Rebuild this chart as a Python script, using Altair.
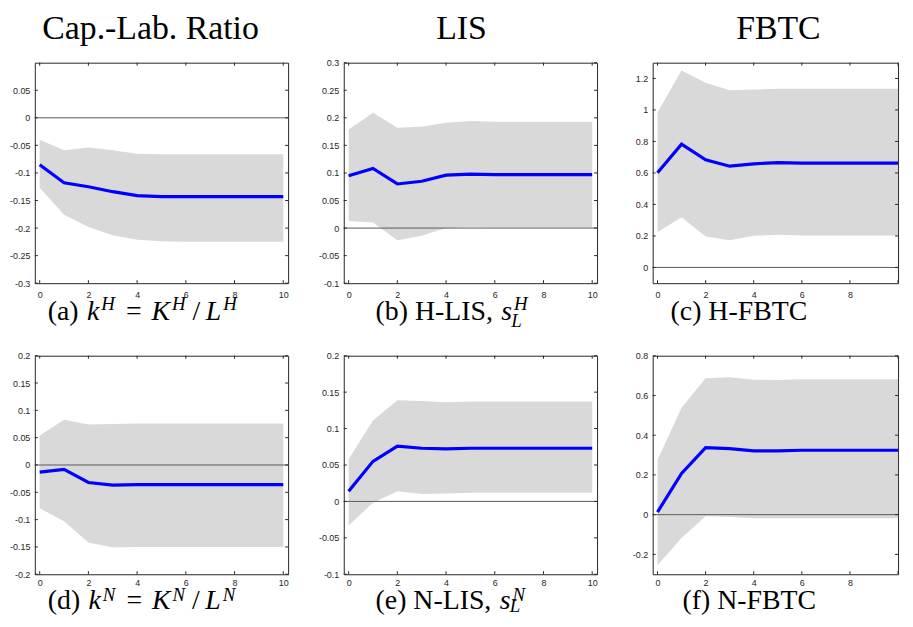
import altair as alt
import pandas as pd

periods = list(range(11))

# (a) k^H
kH_mid = [-0.085, -0.118, -0.125, -0.134, -0.141, -0.143, -0.143, -0.143, -0.143, -0.143, -0.143]
kH_hi = [-0.040, -0.059, -0.054, -0.059, -0.065, -0.066, -0.066, -0.066, -0.066, -0.066, -0.066]
kH_lo = [-0.127, -0.176, -0.198, -0.213, -0.221, -0.224, -0.225, -0.225, -0.225, -0.225, -0.225]
# (b) H-LIS
lisH_mid = [0.095, 0.108, 0.080, 0.085, 0.096, 0.098, 0.097, 0.097, 0.097, 0.097, 0.097]
lisH_hi = [0.179, 0.209, 0.182, 0.184, 0.191, 0.194, 0.193, 0.193, 0.193, 0.193, 0.193]
lisH_lo = [0.013, 0.010, -0.022, -0.014, 0.000, 0.002, 0.001, 0.001, 0.001, 0.001, 0.001]
# (c) H-FBTC
fbtcH_mid = [0.601, 0.783, 0.683, 0.643, 0.658, 0.666, 0.662, 0.662, 0.662, 0.662, 0.662]
fbtcH_hi = [0.984, 1.250, 1.173, 1.125, 1.129, 1.135, 1.135, 1.135, 1.135, 1.135, 1.135]
fbtcH_lo = [0.224, 0.318, 0.197, 0.172, 0.201, 0.207, 0.203, 0.203, 0.203, 0.203, 0.203]
# (d) k^N
kN_mid = [-0.013, -0.008, -0.032, -0.037, -0.036, -0.036, -0.036, -0.036, -0.036, -0.036, -0.036]
kN_hi = [0.054, 0.083, 0.074, 0.075, 0.076, 0.076, 0.076, 0.076, 0.076, 0.076, 0.076]
kN_lo = [-0.079, -0.103, -0.142, -0.151, -0.150, -0.150, -0.150, -0.150, -0.150, -0.150, -0.150]
# (e) N-LIS
lisN_mid = [0.014, 0.055, 0.076, 0.073, 0.072, 0.073, 0.073, 0.073, 0.073, 0.073, 0.073]
lisN_hi = [0.058, 0.111, 0.139, 0.138, 0.136, 0.137, 0.137, 0.137, 0.137, 0.137, 0.137]
lisN_lo = [-0.033, -0.002, 0.014, 0.010, 0.011, 0.012, 0.012, 0.012, 0.012, 0.012, 0.012]
# (f) N-FBTC
fbtcN_mid = [0.013, 0.207, 0.337, 0.332, 0.321, 0.321, 0.324, 0.324, 0.324, 0.324, 0.324]
fbtcN_hi = [0.275, 0.538, 0.687, 0.691, 0.679, 0.678, 0.681, 0.681, 0.681, 0.681, 0.681]
fbtcN_lo = [-0.255, -0.118, -0.008, -0.012, -0.018, -0.018, -0.018, -0.018, -0.018, -0.018, -0.018]

col_titles = ["Cap.-Lab. Ratio", "LIS", "FBTC"]

yt_kH = [-0.3, -0.25, -0.2, -0.15, -0.1, -0.05, 0, 0.05]
yt_lisH = [-0.1, -0.05, 0, 0.05, 0.1, 0.15, 0.2, 0.25, 0.3]
yt_fbtcH = [0, 0.2, 0.4, 0.6, 0.8, 1, 1.2]
yt_kN = [-0.2, -0.15, -0.1, -0.05, 0, 0.05, 0.1, 0.15, 0.2]
yt_lisN = [-0.1, -0.05, 0, 0.05, 0.1, 0.15, 0.2]
yt_fbtcN = [-0.2, 0, 0.2, 0.4, 0.6, 0.8]
xt_all = [0, 2, 4, 6, 8, 10]
xt_cut = [0, 2, 4, 6, 8]

# caption segments: (text, style, space_before_em, space_after_em)
cap_a = [("(a)", "rm", 0, .3), ("k", "it", 0, 0), ("H", "sup", 0, .35), ("=", "rm", 0, .35),
         ("K", "it", 0, 0), ("H", "sup", 0, .2), ("/", "rm", 0, .2), ("L", "it", 0, 0), ("H", "sup", 0, 0)]
cap_b = [("(b) H-LIS,", "rm", 0, .3), ("s", "it", 0, 0), ("H", "sup", 0, 0), ("L", "sub", 0, 0)]
cap_c = [("(c) H-FBTC", "rm", 0, 0)]
cap_d = [("(d)", "rm", 0, .3), ("k", "it", 0, 0), ("N", "sup", 0, .35), ("=", "rm", 0, .35),
         ("K", "it", 0, 0), ("N", "sup", 0, .2), ("/", "rm", 0, .2), ("L", "it", 0, 0), ("N", "sup", 0, 0)]
cap_e = [("(e) N-LIS,", "rm", 0, .3), ("s", "it", 0, 0), ("N", "sup", 0, 0), ("L", "sub", 0, 0)]
cap_f = [("(f) N-FBTC", "rm", 0, 0)]

SERIF = "Liberation Serif"
SANS = "Liberation Sans"
DARK = "#262626"
H_TOP = 222
H_BOT = 220
CAP_FS = 28
SUB_FS = 19
TITLE_FS = 34
W = 255
W3 = 247
GAP = 56

RM = {"(": .333, ")": .333, " ": .25, "a": .444, "b": .5, "c": .444, "d": .5, "e": .444,
      "f": .333, "H": .722, "N": .722, "-": .333, "L": .611, "I": .333, "S": .556, ",": .25,
      "F": .556, "B": .667, "T": .611, "C": .667, "=": .564, "/": .278}
IT = {"k": .444, "K": .667, "L": .556, "s": .389, "H": .722, "N": .667}

dummy = pd.DataFrame({"a": [0]})


def text_w(s, table, fs):
    return sum(table.get(ch, .5) for ch in s) * fs


def caption_layers(segs, x0, ybase, sub_drop, sup_raise):
    layers = []
    x = x0
    sup_start = x0
    for txt, style, sb, sa in segs:
        x += sb * CAP_FS
        if style == "rm":
            fs, fst, dy, w = CAP_FS, "normal", 0, text_w(txt, RM, CAP_FS)
            start = x
        elif style == "it":
            fs, fst, dy, w = CAP_FS, "italic", 0, text_w(txt, IT, CAP_FS) + 0.07 * CAP_FS
            start = x
        elif style == "sup":
            fs, fst, dy, w = SUB_FS, "italic", -sup_raise, text_w(txt, IT, SUB_FS) + 0.05 * CAP_FS
            start = x
            sup_start = x
        else:  # subscript stacked under the superscript
            fs, fst, dy, w = SUB_FS, "italic", sub_drop, 0
            start = sup_start - 0.1 * CAP_FS
        # baseline "bottom": glyph baseline sits 0.21*fs above y
        layers.append(
            alt.Chart(dummy).mark_text(text=txt, font=SERIF, fontSize=fs, fontStyle=fst,
                                       align="left", baseline="bottom", color="black")
            .encode(x=alt.value(start), y=alt.value(ybase + dy + 0.21 * fs))
        )
        if style != "sub":
            x = start + w
        x += sa * CAP_FS
    return layers


def panel(mid, lo, hi, ydom, yvals, xdom, xlab, w, h, caption, cap_x, cap_dy, sub_drop,
          sup_raise, xpad, title=None, title_dx=0):
    df = pd.DataFrame({"t": periods, "mid": mid, "lo": lo, "hi": hi})
    xs = alt.Scale(domain=xdom, nice=False, zero=False)
    ys = alt.Scale(domain=ydom, nice=False, zero=False)
    xax = alt.Axis(values=xlab, labelExpr="'' + datum.value", ticks=False, domain=False, grid=False,
                   labelFont=SANS, labelFontSize=9, labelColor=DARK, labelPadding=xpad,
                   labelOverlap=False, labelFlush=False, title=None)
    yax = alt.Axis(values=yvals, labelExpr="'' + datum.value", ticks=False, domain=False, grid=False,
                   labelFont=SANS, labelFontSize=9, labelColor=DARK, labelPadding=5,
                   labelOverlap=False, labelFlush=False, title=None)
    X = lambda f: alt.X(f, scale=xs, axis=xax)
    Y = lambda f: alt.Y(f, scale=ys, axis=yax)

    band = alt.Chart(df).mark_area(color="#d9d9d9", opacity=1).encode(
        x=X("t:Q"), y=Y("lo:Q"), y2="hi:Q")
    zero = alt.Chart(pd.DataFrame({"z": [0.0]})).mark_rule(color="#5a5a5a", strokeWidth=1).encode(
        y=Y("z:Q"))
    line = alt.Chart(df).mark_line(color="#0000ff", strokeWidth=3.2).encode(
        x=X("t:Q"), y=Y("mid:Q"))
    ydf = pd.DataFrame({"v": yvals})
    xdf = pd.DataFrame({"v": xt_all})
    tl = alt.Chart(ydf).mark_rule(color=DARK, strokeWidth=1).encode(
        y=Y("v:Q"), x=alt.value(0), x2=alt.value(3))
    tr = alt.Chart(ydf).mark_rule(color=DARK, strokeWidth=1).encode(
        y=Y("v:Q"), x=alt.value(w - 3), x2=alt.value(w))
    tb = alt.Chart(xdf).mark_rule(color=DARK, strokeWidth=1).encode(
        x=X("v:Q"), y=alt.value(h), y2=alt.value(h - 3))
    tt = alt.Chart(xdf).mark_rule(color=DARK, strokeWidth=1).encode(
        x=X("v:Q"), y=alt.value(0), y2=alt.value(3))
    layers = [band, zero, line, tl, tr, tb, tt] + caption_layers(caption, cap_x, h + cap_dy,
                                                                 sub_drop, sup_raise)
    if title:
        layers.append(
            alt.Chart(dummy).mark_text(text=title, font=SERIF, fontSize=TITLE_FS, align="center",
                                       baseline="top", color="black")
            .encode(x=alt.value(w / 2 + title_dx), y=alt.value(-51))
        )
    return alt.layer(*layers).properties(width=w, height=h)


XD = [-0.2, 10.2]
XD3 = [-0.2, 10.0]
p1 = panel(kH_mid, kH_lo, kH_hi, [-0.3, 0.1], yt_kH, XD, xt_all, W, H_TOP, cap_a, 13, 37, 7, 10, 7,
           col_titles[0], -11)
p2 = panel(lisH_mid, lisH_lo, lisH_hi, [-0.1, 0.3], yt_lisH, XD, xt_all, W, H_TOP, cap_b, 32, 37, 7, 10, 7,
           col_titles[1], -9)
p3 = panel(fbtcH_mid, fbtcH_lo, fbtcH_hi, [-0.1, 1.3], yt_fbtcH, XD3, xt_cut, W3, H_TOP, cap_c, 18, 37, 7,
           10, 7, col_titles[2], 3)
p4 = panel(kN_mid, kN_lo, kN_hi, [-0.2, 0.2], yt_kN, XD, xt_all, W, H_BOT, cap_d, 13, 35, 4, 8, 4)
p5 = panel(lisN_mid, lisN_lo, lisN_hi, [-0.1, 0.2], yt_lisN, XD, xt_all, W, H_BOT, cap_e, 32, 35, 3, 8, 4)
p6 = panel(fbtcN_mid, fbtcN_lo, fbtcN_hi, [-0.3, 0.8], yt_fbtcN, XD3, xt_cut, W3, H_BOT, cap_f, 30, 35, 4,
           8, 4)

chart = alt.concat(p1, p2, p3, p4, p5, p6, columns=3,
                   spacing={"row": 73, "column": GAP}, bounds="flush").properties(
    padding={"left": 0, "top": 1, "right": 0, "bottom": 0}
).configure_view(stroke=DARK, strokeWidth=1)

chart.save("out.html", embed_options={"renderer": "svg", "actions": False})
